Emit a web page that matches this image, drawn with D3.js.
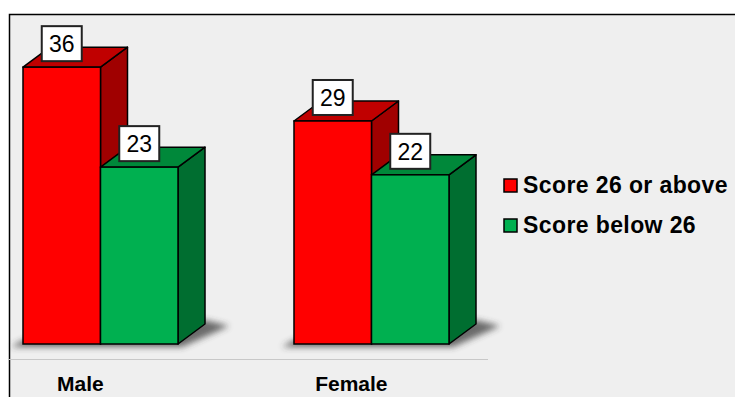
<!DOCTYPE html>
<meta charset="utf-8">
<style>
body{margin:0;background:#fff;}
text{font-family:"Liberation Sans",Arial,Helvetica,sans-serif;}
.val{font-size:23px;text-anchor:middle;}
.cat{font-size:21px;font-weight:bold;text-anchor:middle;}
.leg{font-size:23px;font-weight:bold;letter-spacing:0.4px;}
</style>
<body>
<script src="https://d3js.org/d3.v7.min.js"></script>
<script>

var categories=["Male","Female"];
var series=["Score 26 or above","Score below 26"];
var above=[36,29];
var below=[23,22];

var front={"Score 26 or above":"#ff0000","Score below 26":"#00b050"};
var topc ={"Score 26 or above":"#c00000","Score below 26":"#00883a"};
var side ={"Score 26 or above":"#a00000","Score below 26":"#006e30"};

var data=categories.map(function(c,i){
	return {cat:c,values:[{s:series[0],v:above[i]},{s:series[1],v:below[i]}]};
});

var W=735,H=397,dx=27,dy=20,base=344;

var svg=d3.select("body").append("svg").attr("width",W).attr("height",H);

var defs=svg.append("defs");
defs.append("filter").attr("id","blur").attr("x","-20%").attr("y","-200%").attr("width","140%").attr("height","500%")
	.append("feGaussianBlur").attr("stdDeviation",3);

// panel
svg.append("rect").attr("x",9).attr("y",14).attr("width",W).attr("height",H).attr("fill","#efefef");
svg.append("path").attr("d","M9.5,"+H+"V14.5H"+W).attr("fill","none").attr("stroke","#000").attr("stroke-width",1.5);

var x0=d3.scaleBand().domain(categories).range([23,449]).paddingInner(0.428).paddingOuter(0);
var x1=d3.scaleBand().domain(series).range([0,x0.bandwidth()]);
var y=d3.scaleLinear().domain([0,40]).range([base,base-307.6]);

svg.append("line").attr("x1",9).attr("x2",488).attr("y1",359.5).attr("y2",359.5)
	.attr("stroke","#c8c8c8").attr("stroke-width",1);

var g=svg.selectAll(".grp").data(data).enter().append("g").attr("class","grp")
	.attr("transform",function(d){return "translate("+x0(d.cat)+",0)";});

// ground shadow
g.append("path")
	.attr("d",function(){
		var w=x0.bandwidth();
		return "M-12,"+(base+3)+"L"+(w+4)+","+(base+3)+"L"+(w+dx+24)+","+(base-dy+2)+"L"+(w+dx)+","+(base-dy-4)+"L0,"+(base-4)+"Z";
	})
	.attr("fill","#333").attr("opacity",0.7).attr("filter","url(#blur)");

var bars=g.selectAll(".bar").data(function(d){return d.values;}).enter().append("g").attr("class","bar");

bars.append("path") // side
	.attr("d",function(d){
		var xr=x1(d.s)+x1.bandwidth(),yt=y(d.v);
		return "M"+xr+","+yt+"L"+(xr+dx)+","+(yt-dy)+"L"+(xr+dx)+","+(base-dy)+"L"+xr+","+base+"Z";
	})
	.attr("fill",function(d){return side[d.s];}).attr("stroke","#000").attr("stroke-width",1.5).attr("stroke-linejoin","round");

bars.append("path") // top
	.attr("d",function(d){
		var xl=x1(d.s),xr=xl+x1.bandwidth(),yt=y(d.v);
		return "M"+xl+","+yt+"L"+(xl+dx)+","+(yt-dy)+"L"+(xr+dx)+","+(yt-dy)+"L"+xr+","+yt+"Z";
	})
	.attr("fill",function(d){return topc[d.s];}).attr("stroke","#000").attr("stroke-width",1.5).attr("stroke-linejoin","round");

bars.append("rect") // front
	.attr("x",function(d){return x1(d.s);})
	.attr("y",function(d){return y(d.v);})
	.attr("width",x1.bandwidth())
	.attr("height",function(d){return base-y(d.v);})
	.attr("fill",function(d){return front[d.s];}).attr("stroke","#000").attr("stroke-width",1.5);

// value boxes
var lab=bars.append("g").attr("transform",function(d){
	return "translate("+(x1(d.s)+x1.bandwidth()/2)+","+(y(d.v)-6)+")";
});
lab.append("rect").attr("x",-20).attr("y",-35).attr("width",40).attr("height",35)
	.attr("fill","#fff").attr("stroke","#222").attr("stroke-width",2);
lab.append("text").attr("class","val").attr("y",-9).text(function(d){return d.v;});

g.append("text").attr("class","cat")
	.attr("x",x0.bandwidth()*0.37).attr("y",391)
	.text(function(d){return d.cat;});

// legend
var leg=svg.selectAll(".legend").data(series).enter().append("g").attr("class","legend")
	.attr("transform",function(d,i){return "translate(504,"+(179+i*40)+")";});
leg.append("rect").attr("width",13).attr("height",13)
	.attr("fill",function(d){return front[d];}).attr("stroke","#000").attr("stroke-width",1.5);
leg.append("text").attr("class","leg").attr("x",19).attr("y",14).text(function(d){return d;});

</script>
</body>
